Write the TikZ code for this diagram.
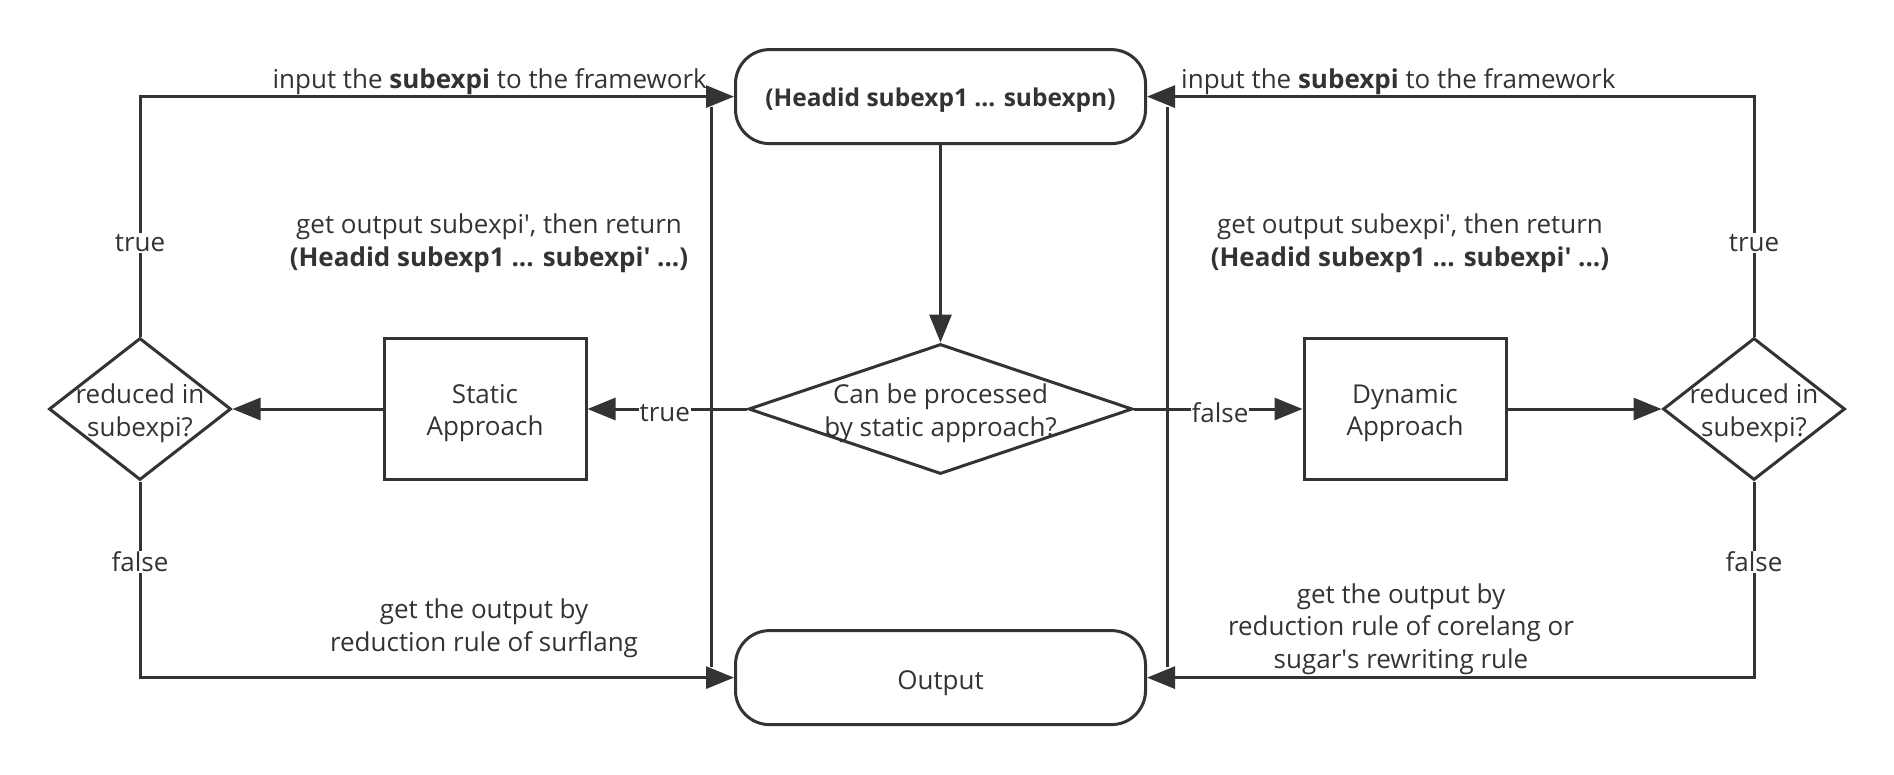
\documentclass[tikz,border=0pt]{standalone}
\usepackage{fontspec}
\setmainfont{Open Sans}
\usetikzlibrary{shapes.geometric,arrows.meta}
\definecolor{ink}{HTML}{333333}
\newcommand\diagfont{\fontsize{26}{32.6}\selectfont}
\newcommand\termfont{\fontsize{24.5}{30}\selectfont}
\begin{document}
\begin{tikzpicture}[x=1pt,y=-1pt,
  every node/.style={font=\diagfont, text=ink},
  term/.style={draw=ink, line width=3pt, rounded corners=34pt, minimum width=410pt, minimum height=94pt, inner sep=0pt},
  procbox/.style={draw=ink, line width=3pt, minimum width=202pt, minimum height=141pt, inner sep=0pt},
  decbox/.style={draw=ink, line width=3pt, diamond, inner sep=0pt},
  inner/.style={align=center, yshift=-4pt},
  conn/.style={draw=ink, line width=3pt, -{Triangle[length=28pt,width=22pt]}},
  plainline/.style={draw=ink, line width=3pt},
  lab/.style={fill=white, inner sep=1pt},
  note/.style={align=center, inner sep=0pt}]
\useasboundingbox (0,0) rectangle (1894,774);

% nodes
\node[term, label={[inner, font=\termfont]center:\textbf{(Headid subexp1 ... subexpn)}}] (head) at (940.5,96.6) {};
\node[term, label={[inner, yshift=-2pt]center:Output}] (out) at (940.5,677.6) {};
\node[decbox, minimum width=384pt, minimum height=130pt,
  label={[inner]center:Can be processed\\by static approach?}] (cdec) at (940.5,409) {};
\node[procbox, label={[inner]center:Static\\Approach}] (static) at (485,409) {};
\node[procbox, label={[inner]center:Dynamic\\Approach}] (dyn) at (1405,409) {};
\node[decbox, minimum width=182pt, minimum height=142pt,
  label={[inner]center:reduced in\\subexpi?}] (ldec) at (140,409) {};
\node[decbox, minimum width=182pt, minimum height=142pt,
  label={[inner]center:reduced in\\subexpi?}] (rdec) at (1754,409) {};

% connectors
\draw[conn] (head) -- (cdec);
\draw[conn] (cdec.west) -- node[lab, pos=0.515, yshift=-4pt] (t1) {true} (static.east);
\draw[conn] (static) -- (ldec);
\draw[conn] (ldec.north) |- node[lab, pos=0.195] (t2) {true} (head.west);
\draw[conn] (ldec.south) |- node[lab, pos=0.205] (f2) {false} (out.west);
\draw[conn] (cdec.east) -- node[lab, pos=0.51, yshift=-4pt] (f1) {false} (dyn.west);
\draw[conn] (dyn) -- (rdec);
\draw[conn] (rdec.north) |- node[lab, pos=0.195] (t3) {true} (head.east);
\draw[conn] (rdec.south) |- node[lab, pos=0.205] (f3) {false} (out.east);

% return lines
\coordinate (lt) at (711.5,107);
\coordinate (lb) at (711.5,667);
\coordinate (rt) at (1167,107);
\coordinate (rb) at (1167,667);
\draw[plainline] (lt) -- (lb);
\draw[plainline] (rt) -- (rb);

% notes
\node[note, anchor=base east] (inL) at (707,88) {input the \textbf{subexpi} to the framework};
\node[note, anchor=base west] (inR) at (1181,88) {input the \textbf{subexpi} to the framework};
\node[note] (retL) at (489,243) {get output subexpi\textquotesingle, then return\\\textbf{(Headid subexp1 ... subexpi\textquotesingle\ ...)}};
\node[note] (retR) at (1410,243) {get output subexpi\textquotesingle, then return\\\textbf{(Headid subexp1 ... subexpi\textquotesingle\ ...)}};
\node[note] (redL) at (484,628.5) {get the output by\\reduction rule of surflang};
\node[note] (redR) at (1401,629) {get the output by\\reduction rule of corelang or\\sugar\textquotesingle s rewriting rule};
\end{tikzpicture}
\end{document}
